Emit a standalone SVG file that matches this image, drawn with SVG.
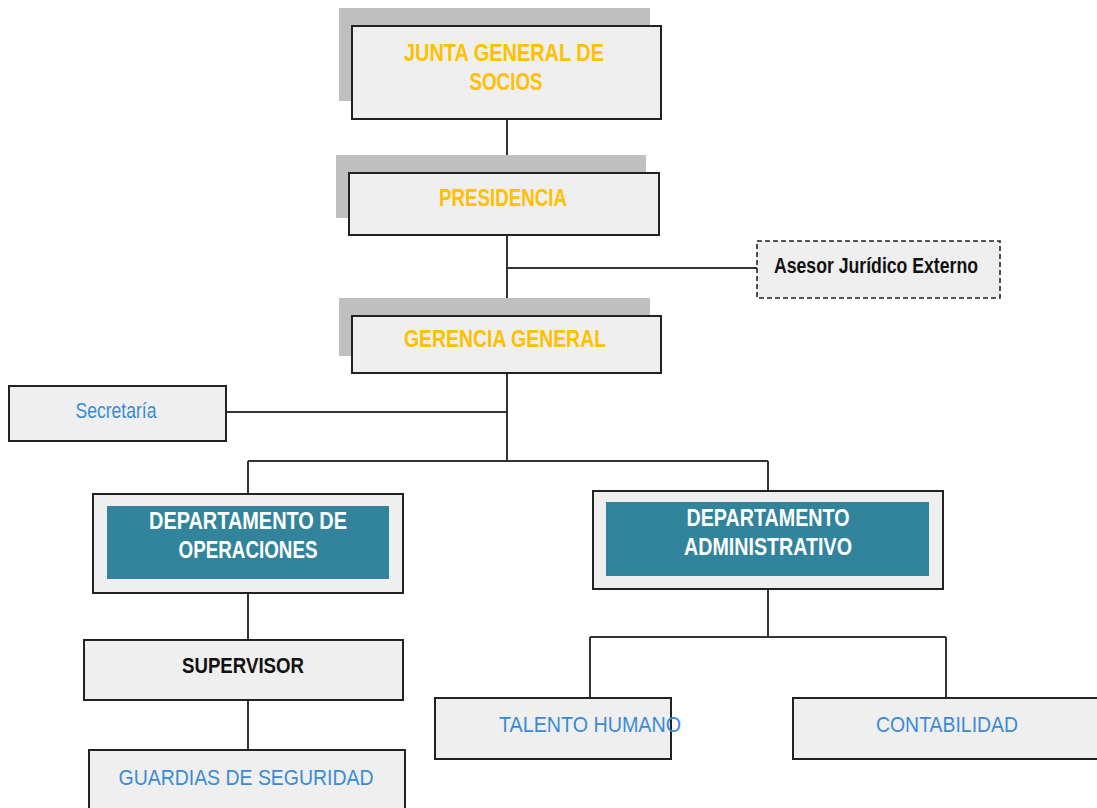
<svg xmlns="http://www.w3.org/2000/svg" width="1097" height="808" viewBox="0 0 1097 808">
<style>
.box{fill:#EFEFEF;stroke:#222;stroke-width:2}
.dash{fill:#EFEFEF;stroke:#222;stroke-width:1.6;stroke-dasharray:5 3}
.shadow{fill:#BFBFBF}
.teal{fill:#31849B}
.line{stroke:#333;stroke-width:2;fill:none}
text{font-family:"Liberation Sans",Arial,sans-serif;text-anchor:middle}
.gold{fill:#FFC000;font-weight:bold;font-size:23.5px}
.white{fill:#FFFFFF;font-weight:bold;font-size:23.5px}
.black{fill:#111;font-weight:bold;font-size:22px}
.blue{fill:#3A8BD6;font-size:22px}
</style>
<rect width="1097" height="808" fill="#FFFFFF"/>
<g id="connectors">
<path class="line" d="M507 119V173M507 235V316M507 268H757M507 373V461M226 412H507M248 461H768M248 461V494M768 461V491M248 593V640M248 700V750M768 589V637M590 637H946M590 637V698M946 637V698"/>
</g>
<g id="junta">
<rect class="shadow" x="339" y="8" width="311" height="93"/>
<rect class="box" x="352" y="26" width="309" height="93"/>
<text class="gold" x="504" y="61" textLength="200" lengthAdjust="spacingAndGlyphs">JUNTA GENERAL DE</text>
<text class="gold" x="506" y="90" textLength="73" lengthAdjust="spacingAndGlyphs">SOCIOS</text>
</g>
<g id="presidencia">
<rect class="shadow" x="336" y="155" width="310" height="63"/>
<rect class="box" x="349" y="173" width="310" height="62"/>
<text class="gold" x="503" y="206" textLength="128" lengthAdjust="spacingAndGlyphs">PRESIDENCIA</text>
</g>
<g id="asesor">
<rect class="dash" x="757" y="241" width="243" height="57"/>
<text class="black" x="876" y="273" font-size="20" textLength="204" lengthAdjust="spacingAndGlyphs">Asesor Jurídico Externo</text>
</g>
<g id="gerencia">
<rect class="shadow" x="339" y="298" width="311" height="58"/>
<rect class="box" x="352" y="316" width="309" height="57"/>
<text class="gold" x="505" y="347" textLength="202" lengthAdjust="spacingAndGlyphs">GERENCIA  GENERAL</text>
</g>
<g id="secretaria">
<rect class="box" x="9" y="386" width="217" height="55"/>
<text class="blue" x="116" y="418" textLength="81" lengthAdjust="spacingAndGlyphs">Secretaría</text>
</g>
<g id="dep-operaciones">
<rect class="box" x="93" y="494" width="310" height="99"/>
<rect class="teal" x="107" y="506" width="282" height="73"/>
<text class="white" x="248" y="529" textLength="198" lengthAdjust="spacingAndGlyphs">DEPARTAMENTO DE</text>
<text class="white" x="248" y="558" textLength="139" lengthAdjust="spacingAndGlyphs">OPERACIONES</text>
</g>
<g id="dep-administrativo">
<rect class="box" x="593" y="491" width="350" height="98"/>
<rect class="teal" x="606" y="502" width="323" height="74"/>
<text class="white" x="768" y="526" textLength="163" lengthAdjust="spacingAndGlyphs">DEPARTAMENTO</text>
<text class="white" x="768" y="555" textLength="168" lengthAdjust="spacingAndGlyphs">ADMINISTRATIVO</text>
</g>
<g id="supervisor">
<rect class="box" x="84" y="640" width="319" height="60"/>
<text class="black" x="243" y="673" textLength="122" lengthAdjust="spacingAndGlyphs">SUPERVISOR</text>
</g>
<g id="guardias">
<rect class="box" x="89" y="750" width="316" height="70"/>
<text class="blue" x="246" y="785" textLength="255" lengthAdjust="spacingAndGlyphs">GUARDIAS  DE  SEGURIDAD</text>
</g>
<g id="talento">
<rect class="box" x="435" y="698" width="236" height="61"/>
<text class="blue" x="590" y="732" textLength="182" lengthAdjust="spacingAndGlyphs">TALENTO HUMANO</text>
</g>
<g id="contabilidad">
<rect class="box" x="793" y="698" width="320" height="61"/>
<text class="blue" x="947" y="732" textLength="142" lengthAdjust="spacingAndGlyphs">CONTABILIDAD</text>
</g>
</svg>
